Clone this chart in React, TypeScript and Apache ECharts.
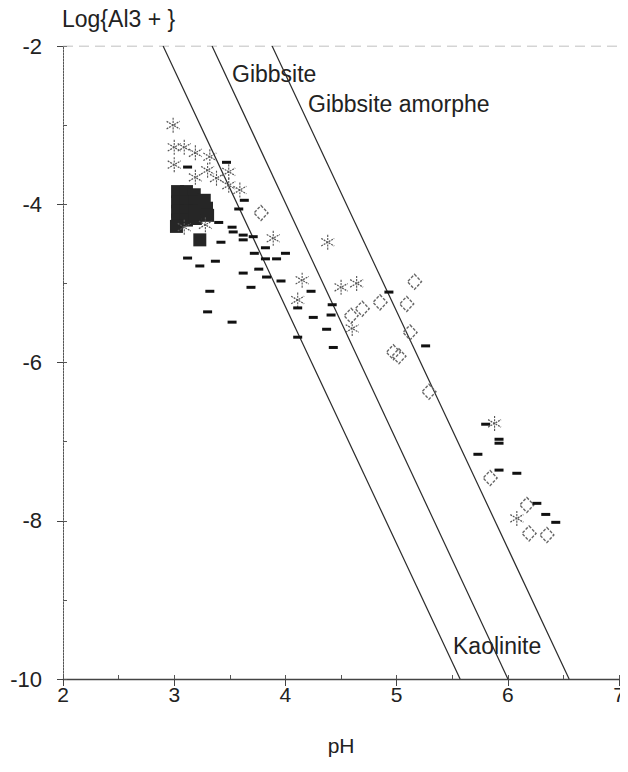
import React, { useEffect, useRef } from "react";
import * as echarts from "echarts";

// Reference lines (pH, log Al3+) endpoints
const gibbsiteLine = [[2.9, -2], [5.57, -10]];
const gibbsiteAmorpheLine = [[3.34, -2], [6.0, -10]];
const kaoliniteLine = [[3.88, -2], [6.55, -10]];

// Asterisk samples
const asteriskPoints = [
  [2.99, -3.0], [3.0, -3.28], [3.09, -3.28], [3.19, -3.35], [3.32, -3.4],
  [3.0, -3.5], [3.3, -3.57], [3.49, -3.59], [3.19, -3.66], [3.38, -3.67],
  [3.49, -3.76], [3.59, -3.82], [3.09, -4.29], [3.28, -4.26], [3.89, -4.43],
  [4.38, -4.48], [4.15, -4.96], [4.11, -5.21], [4.5, -5.05], [4.64, -5.0],
  [4.6, -5.57], [5.88, -6.77], [6.08, -7.97],
];

// Open diamond samples
const diamondPoints = [
  [3.78, -4.11], [5.16, -4.98], [5.09, -5.26], [4.85, -5.24], [4.69, -5.32],
  [4.59, -5.41], [5.12, -5.62], [4.97, -5.87], [5.02, -5.92], [5.29, -6.37],
  [5.84, -7.46], [6.17, -7.8], [6.19, -8.16], [6.35, -8.18],
];

// Dash samples
const dashPoints = [
  [3.12, -3.53], [3.47, -3.47], [3.63, -3.95], [3.58, -4.06], [3.4, -4.23],
  [3.52, -4.29], [3.53, -4.35], [3.62, -4.39], [3.62, -4.45], [3.71, -4.41],
  [3.42, -4.48], [3.82, -4.55], [3.72, -4.62], [4.0, -4.62], [3.82, -4.69],
  [3.92, -4.69], [3.12, -4.68], [3.37, -4.72], [3.23, -4.78], [3.76, -4.82],
  [3.62, -4.87], [3.83, -4.92], [3.96, -4.97], [3.69, -5.05], [3.32, -5.1],
  [3.3, -5.36], [3.52, -5.49], [4.23, -5.1], [4.11, -5.31], [4.25, -5.43],
  [4.42, -5.27], [4.41, -5.4], [4.37, -5.58], [4.11, -5.68], [4.43, -5.81],
  [4.93, -5.11], [5.26, -5.79], [5.8, -6.78], [5.92, -6.97], [5.92, -7.02],
  [5.73, -7.16], [5.92, -7.36], [6.08, -7.4], [6.26, -7.78], [6.34, -7.92],
  [6.43, -8.02],
];

// Filled (dense) samples
const filledPoints = [
  [3.03, -3.84], [3.11, -3.84], [3.18, -3.88], [3.03, -3.97], [3.11, -3.97],
  [3.19, -3.97], [3.03, -4.09], [3.11, -4.09], [3.19, -4.09], [3.03, -4.2],
  [3.11, -4.2], [3.19, -4.18], [3.27, -3.95], [3.29, -4.05], [3.3, -4.14],
  [3.02, -4.28], [3.23, -4.45],
];

const xTicks = [2, 3, 4, 5, 6, 7];

const FONT = "'Liberation Sans', Arial, Helvetica, sans-serif";
const ASTERISK = "path://M0,-10L0,10M-8.66,-5L8.66,5M-8.66,5L8.66,-5";

export default function App() {
  const ref = useRef<HTMLDivElement>(null);
  useEffect(() => {
    if (!ref.current) return;
    const chart = echarts.init(ref.current, null, { renderer: "svg" });
    const lineSeries = (data: number[][]) => ({
      type: "line",
      data,
      symbol: "none",
      lineStyle: { color: "#2a2a2a", width: 1.2 },
      silent: true,
      z: 1,
    });
    chart.setOption({
      animation: false,
      backgroundColor: "#fff",
      grid: { left: 63, top: 46, right: -3, bottom: 93, containLabel: false },
      xAxis: [
        {
          type: "value",
          min: xTicks[0],
          max: xTicks[xTicks.length - 1],
          interval: 1,
          name: "pH",
          nameLocation: "middle",
          nameGap: 56,
          nameTextStyle: { fontFamily: FONT, fontSize: 21, color: "#222" },
          axisLine: { show: true, lineStyle: { color: "#444", width: 1.3 } },
          axisTick: { show: true, inside: false, length: 7, lineStyle: { color: "#444" } },
          axisLabel: { fontFamily: FONT, fontSize: 21, color: "#222", margin: 5 },
          splitLine: { show: false },
        },
        {
          type: "value",
          min: 2,
          max: 7,
          interval: 0.5,
          position: "bottom",
          axisLine: { show: false },
          axisTick: { show: true, inside: true, length: 4, lineStyle: { color: "#555" } },
          axisLabel: { show: false },
          splitLine: { show: false },
        },
      ],
      yAxis: [
        {
          type: "value",
          min: -10,
          max: -2,
          interval: 2,
          axisLine: { show: true, lineStyle: { color: "#555", width: 1, type: [2, 1] } },
          axisTick: { show: true, inside: false, length: 6, lineStyle: { color: "#444" } },
          axisLabel: { fontFamily: FONT, fontSize: 22, color: "#222", margin: 21 },
          splitLine: { show: false },
        },
        {
          type: "value",
          min: -10,
          max: -2,
          interval: 1,
          position: "left",
          axisLine: { show: false },
          axisTick: { show: true, inside: true, length: 4, lineStyle: { color: "#555" } },
          axisLabel: { show: false },
          splitLine: { show: false },
        },
      ],
      graphic: [
        {
          type: "text",
          left: 62,
          top: 7,
          style: { text: "Log{Al3 + }", font: `23px ${FONT}`, fill: "#222" },
        },
        {
          type: "text",
          left: 232,
          top: 62,
          style: { text: "Gibbsite", font: `23px ${FONT}`, fill: "#222" },
        },
        {
          type: "text",
          left: 308,
          top: 92,
          style: { text: "Gibbsite amorphe", font: `23px ${FONT}`, fill: "#222" },
        },
        {
          type: "text",
          left: 453,
          top: 634,
          style: { text: "Kaolinite", font: `23px ${FONT}`, fill: "#222" },
        },
      ],
      series: [
        {
          type: "line",
          data: [[2, -2], [7, -2]],
          symbol: "none",
          lineStyle: { color: "#aaa", width: 1, type: [10, 6] },
          silent: true,
          z: 1,
        },
        lineSeries(gibbsiteLine),
        lineSeries(gibbsiteAmorpheLine),
        lineSeries(kaoliniteLine),
        {
          type: "scatter",
          data: filledPoints,
          symbol: "rect",
          symbolSize: [13, 13],
          itemStyle: { color: "#262626", opacity: 1 },
          z: 3,
        },
        {
          type: "scatter",
          data: asteriskPoints,
          symbol: ASTERISK,
          symbolSize: [13, 15],
          itemStyle: { color: "transparent", borderColor: "#555", borderWidth: 1.2, borderType: [2, 1], opacity: 1 },
          z: 4,
        },
        {
          type: "scatter",
          data: diamondPoints,
          symbol: "diamond",
          symbolSize: [14, 15],
          itemStyle: { color: "transparent", borderColor: "#666", borderWidth: 1.4, borderType: [3, 1.5], opacity: 1 },
          z: 4,
        },
        {
          type: "scatter",
          data: dashPoints,
          symbol: "rect",
          symbolSize: [9, 3],
          itemStyle: { color: "#111", opacity: 1 },
          z: 5,
        },
      ],
    });
    return () => chart.dispose();
  }, []);
  return <div ref={ref} style={{ width: 628, height: 772, margin: -8 }} />;
}
